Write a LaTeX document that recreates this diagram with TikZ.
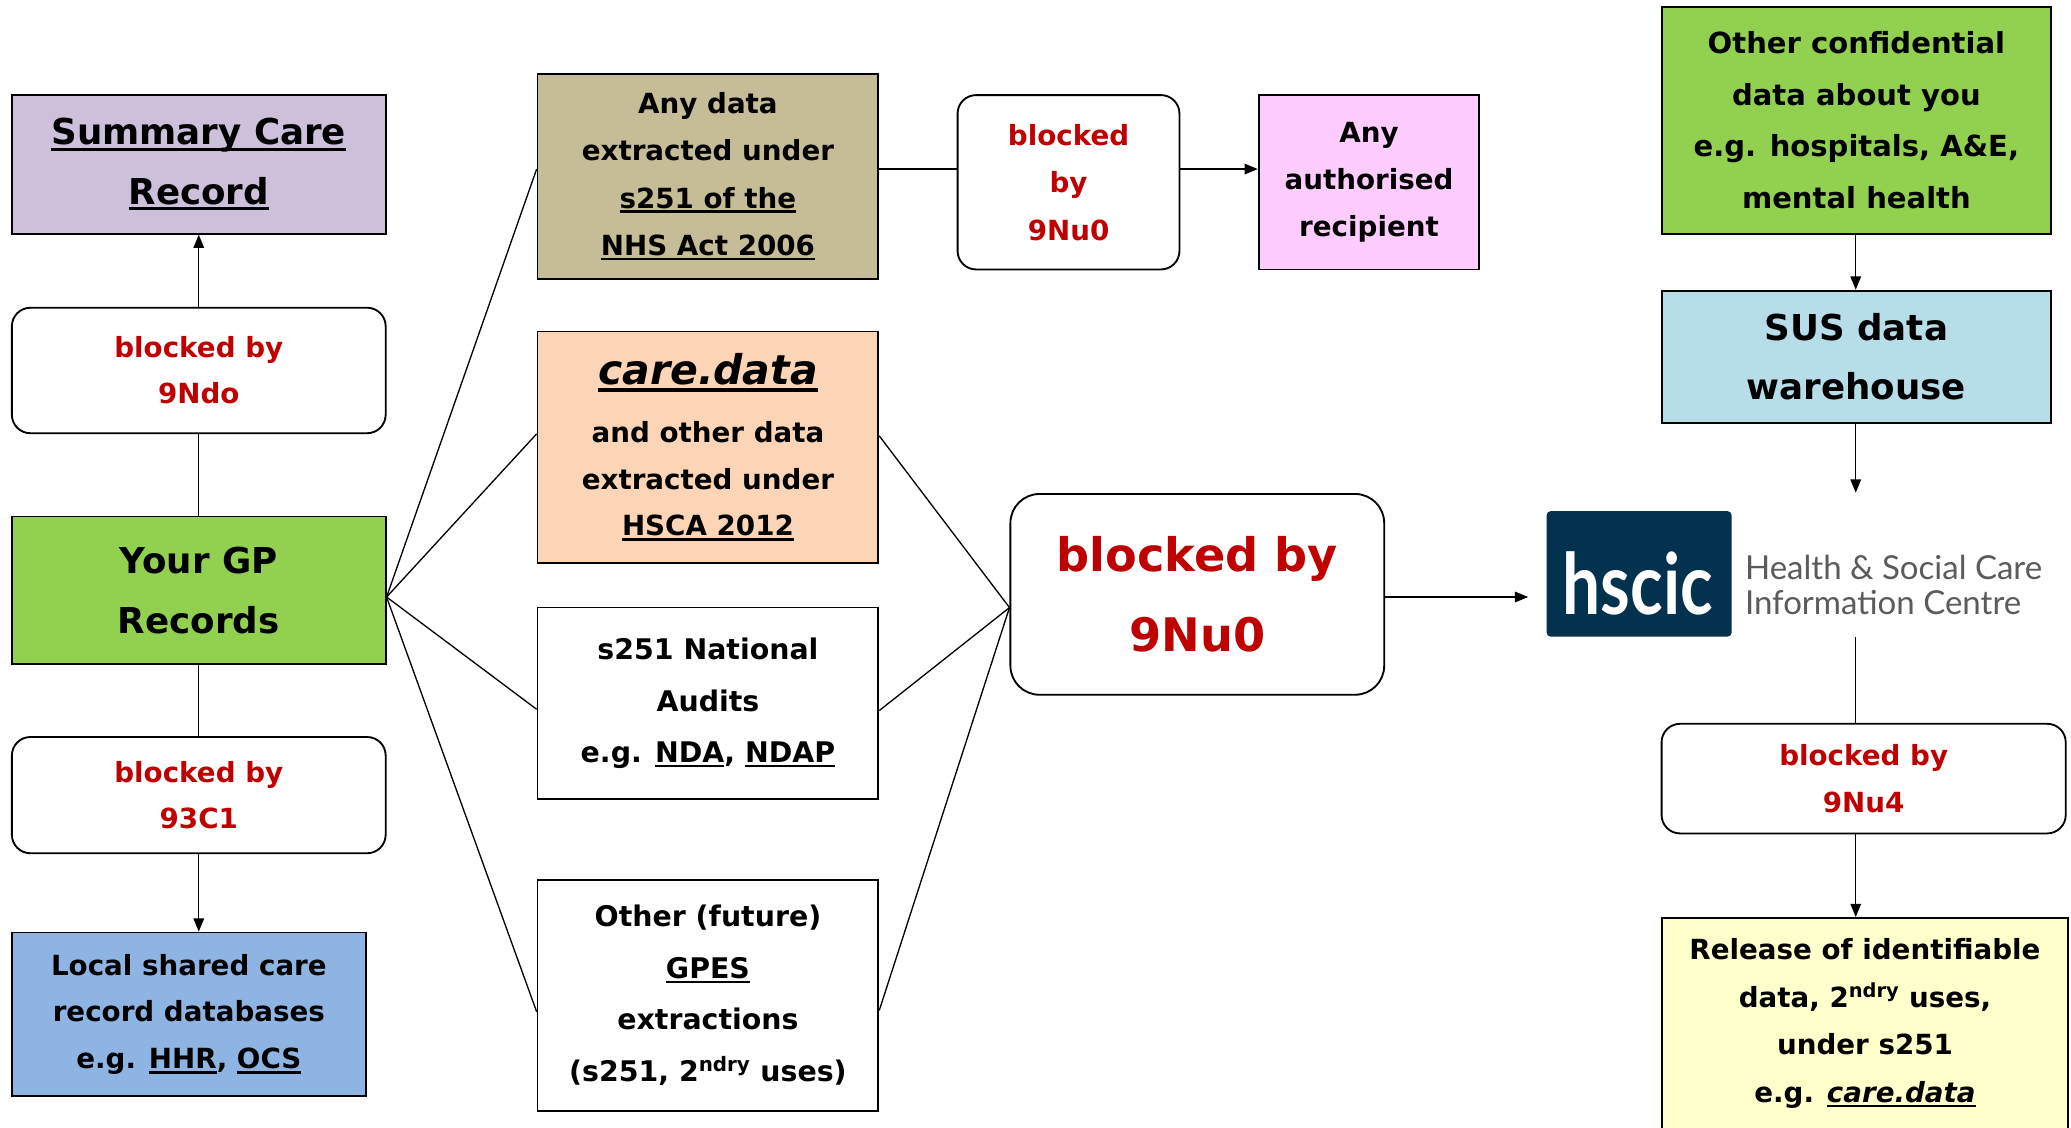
\documentclass[tikz,border=0pt]{standalone}
\usepackage{fontspec}
\setmainfont{DejaVu Sans}
\newfontfamily\latof{Lato}
\usetikzlibrary{arrows.meta}
\definecolor{lav}{HTML}{CCC0DA}
\definecolor{grn}{HTML}{92D050}
\definecolor{blu}{HTML}{8DB4E2}
\definecolor{tan}{HTML}{C4BD97}
\definecolor{pch}{HTML}{FBD5B5}
\definecolor{pnk}{HTML}{FFCCFF}
\definecolor{lbl}{HTML}{B7DEE8}
\definecolor{ylw}{HTML}{FFFFCC}
\definecolor{redc}{HTML}{C00000}
\definecolor{navy}{HTML}{03324F}
\definecolor{gry}{HTML}{5A5B5D}
\newcommand\myul[1]{\leavevmode\setbox0=\hbox{#1}\rlap{\rule[-0.17em]{\wd0}{0.085em}}\box0}
\newcommand\fs[2]{\fontsize{#1}{#2}\selectfont\bfseries}
\tikzset{
  bx/.style={draw, line width=1.4pt, inner sep=0pt, align=center},
  rbx/.style={bx, rounded corners=14pt, fill=white, text=redc},
  ln/.style={line width=1pt},
  ar/.style={ln, -{Triangle[length=10pt,width=8pt]}},
}
\begin{document}
\begin{tikzpicture}[x=1pt,y=-1pt]
\useasboundingbox[fill=white] (0,0) rectangle (1568,854);
% left column
\node[bx, fill=lav, minimum width=283pt, minimum height=105pt, font=\fs{27}{45}] (scr) at (150.5,124.5) {\myul{Summary Care}\\\myul{Record}};
\node[rbx, minimum width=283pt, minimum height=95pt, font=\fs{21}{35}] (b1) at (150.5,280.5) {blocked by\\9Ndo};
\node[bx, fill=grn, minimum width=283pt, minimum height=112pt, font=\fs{27}{46}] (gp) at (150.5,447) {Your GP\\Records};
\node[rbx, minimum width=283pt, minimum height=88pt, font=\fs{21}{35}] (b2) at (150.5,602) {blocked by\\93C1};
\node[bx, fill=blu, minimum width=268pt, minimum height=124pt, font=\fs{21}{35.5}] (loc) at (143,768) {Local shared care\\record databases\\e.g. \myul{HHR}, \myul{OCS}};
% middle column
\node[bx, fill=tan, minimum width=258pt, minimum height=155pt, font=\fs{21}{35.7}] (anyd) at (536,133.5) {Any data\\extracted under\\\myul{s251 of the}\\\myul{NHS Act 2006}};
\node[bx, fill=pch, minimum width=258pt, minimum height=175pt, font=\fs{21}{35.5}] (cared) at (536,338.5) {{\fontsize{31}{35.5}\selectfont\itshape\myul{care.data}}\\[8pt]and other data\\extracted under\\\myul{HSCA 2012}};
\node[bx, fill=white, minimum width=258pt, minimum height=145pt, font=\fs{21.5}{39}] (nat) at (536,532.5) {s251 National\\Audits\\e.g. \myul{NDA}, \myul{NDAP}};
\node[bx, fill=white, minimum width=258pt, minimum height=175pt, font=\fs{21.5}{39}] (oth) at (536,753.5) {Other (future)\\\myul{GPES}\\extractions\\(s251, 2\textsuperscript{ndry} uses)};
% top middle
\node[rbx, minimum width=168pt, minimum height=132pt, font=\fs{21}{36}] (bs) at (809,138) {blocked\\by\\9Nu0};
\node[bx, fill=pnk, minimum width=167pt, minimum height=132pt, font=\fs{21}{35.5}] (auth) at (1036.5,138) {Any\\authorised\\recipient};
% big blocked
\node[rbx, rounded corners=22pt, minimum width=283pt, minimum height=152pt, font=\fs{35}{60}] (big) at (906.5,450) {blocked by\\9Nu0};
% logo
\node[fill=navy, rounded corners=3pt, minimum width=140pt, minimum height=95pt, inner sep=0pt] (logo) at (1241,434.5) {};
\node[text=white, inner sep=0pt, font=\latof\bfseries\fontsize{64}{64}\selectfont] (hs) at (1240,442) {\scalebox{0.8}[1]{hscic}};
\node[anchor=west, align=left, text=gry, inner sep=0pt, font=\latof\fontsize{25}{26}\selectfont] (hn) at (1321,443) {Health \& Social Care\\Information Centre};
% right column
\node[bx, fill=grn, minimum width=295pt, minimum height=172pt, font=\fs{22}{39}] (oc) at (1405.5,91) {Other confidential\\data about you\\e.g. hospitals, A\&E,\\mental health};
\node[bx, fill=lbl, minimum width=295pt, minimum height=100pt, font=\fs{27}{45}] (sus) at (1405.5,270) {SUS data\\warehouse};
\node[rbx, minimum width=306pt, minimum height=83pt, font=\fs{21}{35}] (b4) at (1411,589.5) {blocked by\\9Nu4};
\node[bx, fill=ylw, minimum width=308pt, minimum height=160pt, font=\fs{21}{36}] (rel) at (1412,775) {Release of identifiable\\data, 2\textsuperscript{ndry} uses,\\under s251\\e.g. \myul{\itshape care.data}};
% coordinates
\coordinate (xr) at (1405,0);
\coordinate (susend) at (1405,373);
\coordinate (logobot) at (1405,482);
\coordinate (logoin) at (1157,452);
\coordinate (a1) at ([yshift=5.5pt]anyd.east);
% left connectors
\draw[ar] (b1.north) -- (b1.north |- scr.south);
\draw[ln] (gp.north) -- (b1.south);
\draw[ln] (gp.south) -- (b2.north);
\draw[ar] (b2.south) -- (b2.south |- loc.north);
% fan
\draw[ln] ([yshift=-5pt]gp.east) -- ([yshift=5.5pt]anyd.west);
\draw[ln] ([yshift=-5pt]gp.east) -- ([yshift=10pt]cared.west);
\draw[ln] ([yshift=-5pt]gp.east) -- ([yshift=-4.5pt]nat.west);
\draw[ln] ([yshift=-5pt]gp.east) -- ([yshift=-12.5pt]oth.west);
\draw[ln] ([yshift=8.5pt]cared.east) -- ([yshift=-10pt]big.west);
\draw[ln] ([yshift=-5.5pt]nat.east) -- ([yshift=-10pt]big.west);
\draw[ln] ([yshift=-11.5pt]oth.east) -- ([yshift=-10pt]big.west);
% top
\draw[ln] (a1) -- (a1 -| bs.west);
\draw[ar] (a1 -| bs.east) -- (a1 -| auth.west);
% big to logo
\draw[ar] (big.east |- logoin) -- (logoin);
% right
\draw[ar] (oc.south -| xr) -- (sus.north -| xr);
\draw[ar] (sus.south -| xr) -- (susend);
\draw[ln] (logobot) -- (b4.north -| xr);
\draw[ar] (b4.south -| xr) -- (rel.north -| xr);
\end{tikzpicture}
\end{document}
